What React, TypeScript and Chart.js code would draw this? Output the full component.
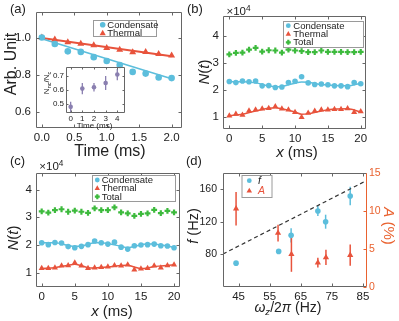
import React, { useEffect, useRef } from "react";
import { Chart, registerables } from "chart.js";

Chart.register(...registerables);

const W = 399;
const H = 321;
const FONT = '"Liberation Sans", Arial, Helvetica, sans-serif';
const CYAN = "#5cbedc";
const RED = "#e8533c";
const GREEN = "#3dba3d";
const PURPLE = "#8a7fb0";
const ORANGE = "#e9622f";
const FRAME = "#666666";
const TEXT = "#222222";

// ---------- (a) ----------
const aTime = [0, 0.2, 0.4, 0.6, 0.8, 1.0, 1.2, 1.4, 1.6, 1.8, 2.0];
const aCondensate = [1.0, 0.965, 0.926, 0.923, 0.895, 0.874, 0.853, 0.816, 0.807, 0.786, 0.783];
const aThermal = [1.0, 0.99, 0.975, 0.967, 0.958, 0.944, 0.935, 0.921, 0.923, 0.912, 0.904];
const aFitTime = [0, 2.0];
const aCondensateFit = [0.993, 0.78];
const aThermalFit = [0.997, 0.9];
const aXTicks = [0, 0.5, 1.0, 1.5, 2.0];
const aYTicks = [0.6, 0.8, 1.0];

// ---------- inset ----------
const insetTime = [0, 1, 2, 3, 4];
const insetRatio = [0.48, 0.61, 0.62, 0.65, 0.71];
const insetErr = [0.037, 0.04, 0.03, 0.05, 0.04];
const insetXTicks = [0, 1, 2, 3, 4];
const insetYTicks = [0.5, 0.6, 0.7];

// ---------- (b) ----------
const bX = [0, 1, 2, 3, 4, 5, 6, 7, 8, 9, 10, 11, 12, 13, 14, 15, 16, 17, 18, 19, 20];
const bTotal = [3.32, 3.37, 3.38, 3.49, 3.56, 3.42, 3.47, 3.46, 3.38, 3.49, 3.46, 3.44, 3.4, 3.4, 3.46, 3.41, 3.41, 3.41, 3.4, 3.4, 3.41];
const bCondensate = [2.31, 2.27, 2.33, 2.3, 2.33, 2.15, 2.16, 2.09, 2.11, 2.27, 2.32, 2.49, 2.26, 2.2, 2.22, 2.19, 2.15, 2.15, 2.12, 2.27, 2.23];
const bThermal = [1.04, 1.11, 1.07, 1.23, 1.26, 1.3, 1.32, 1.38, 1.3, 1.26, 1.17, 0.99, 1.14, 1.22, 1.26, 1.26, 1.28, 1.28, 1.31, 1.17, 1.2];
const bFitX = [0, 2, 4, 6, 7, 8, 10, 11, 12, 14, 16, 18, 20];
const bCondensateFit = [2.3, 2.3, 2.26, 2.15, 2.12, 2.13, 2.25, 2.29, 2.28, 2.2, 2.16, 2.15, 2.25];
const bThermalFit = [1.05, 1.1, 1.22, 1.32, 1.34, 1.3, 1.18, 1.1, 1.12, 1.22, 1.29, 1.3, 1.18];

// ---------- (c) ----------
const cX = [0, 1, 2, 3, 4, 5, 6, 7, 8, 9, 10, 11, 12, 13, 14, 15, 16, 17, 18, 19, 20];
const cTotal = [3.21, 3.17, 3.26, 3.29, 3.2, 3.24, 3.2, 3.16, 3.32, 3.26, 3.26, 3.36, 3.18, 3.14, 3.05, 3.12, 3.14, 3.27, 3.15, 3.23, 3.18];
const cCondensate = [2.08, 2.01, 2.09, 2.07, 1.94, 1.9, 1.95, 2.01, 2.14, 2.08, 2.03, 2.1, 1.92, 1.85, 1.97, 2.0, 2.01, 2.03, 1.97, 1.96, 1.9];
const cThermal = [1.16, 1.16, 1.18, 1.25, 1.26, 1.36, 1.25, 1.16, 1.18, 1.19, 1.21, 1.26, 1.25, 1.28, 1.1, 1.14, 1.16, 1.25, 1.18, 1.26, 1.28];
const cCondFitX = [0, 2, 4, 5, 6, 8, 9, 10, 12, 13, 14, 16, 17, 18, 20];
const cCondensateFit = [2.08, 2.08, 1.98, 1.95, 1.96, 2.08, 2.08, 2.05, 1.95, 1.9, 1.95, 2.03, 2.03, 2.0, 1.92];
const cThermFitX = [0, 2, 4, 5, 6, 7, 8, 10, 12, 13, 14, 15, 16, 17, 18, 20];
const cThermalFit = [1.15, 1.18, 1.27, 1.3, 1.25, 1.18, 1.17, 1.2, 1.26, 1.27, 1.2, 1.15, 1.17, 1.22, 1.24, 1.28];

const nXTicks = [0, 5, 10, 15, 20];
const nYTicks = [1, 2, 3, 4];

// ---------- (d) ----------
const dOmegaF = [44.2, 57.9, 61.9, 70.5, 73.0, 80.9];
const dF = [69.3, 83.7, 103.4, 133.3, 120.2, 151.8];
const dFErr = [1.5, 1.5, 8.6, 6.2, 8.6, 11.3];
const dOmegaA = [44.2, 57.7, 62.0, 70.5, 73.1, 80.9];
const dA = [10.3, 7.1, 4.3, 3.2, 3.9, 4.2];
const dAErr = [2.2, 1.1, 2.3, 0.65, 1.0, 1.4];
const dLineOmega = [40, 86.3];
const dLineF = [80.5, 171];
const dXTicks = [45, 55, 65, 75, 85];
const dFTicks = [80, 120, 160];
const dATicks = [0, 5, 10, 15];

const pts = (xs: number[], ys: number[]) => xs.map((x, i) => ({ x, y: ys[i] }));

function drawMarker(ctx: any, style: string, x: number, y: number, r: number, color: string) {
  ctx.save();
  ctx.fillStyle = color;
  ctx.strokeStyle = color;
  if (style === "circle") {
    ctx.beginPath();
    ctx.arc(x, y, r, 0, Math.PI * 2);
    ctx.fill();
  } else if (style === "triangle") {
    ctx.beginPath();
    ctx.moveTo(x, y - r);
    ctx.lineTo(x + r * 0.9, y + r * 0.6);
    ctx.lineTo(x - r * 0.9, y + r * 0.6);
    ctx.closePath();
    ctx.fill();
  } else {
    ctx.lineWidth = 2.2;
    ctx.beginPath();
    ctx.moveTo(x - r, y);
    ctx.lineTo(x + r, y);
    ctx.moveTo(x, y - r);
    ctx.lineTo(x, y + r);
    ctx.stroke();
  }
  ctx.restore();
}

function framePlugin(cfg: any) {
  return {
    id: "frame",
    afterDatasetsDraw(chart: any) {
      const { ctx, chartArea: a } = chart;
      const L = cfg.tickLen ?? 3;
      const left = Math.round(a.left) + 0.5;
      const right = Math.round(a.right) - 0.5;
      const top = Math.round(a.top) + 0.5;
      const bottom = Math.round(a.bottom) - 0.5;
      ctx.save();
      ctx.lineWidth = 1;
      Object.keys(chart.scales).forEach((id) => {
        const s = chart.scales[id];
        ctx.strokeStyle = (cfg.colors && cfg.colors[id]) || FRAME;
        const sides = (cfg.sides && cfg.sides[id]) || ["a", "b"];
        const out = cfg.outward && cfg.outward[id];
        s.ticks.forEach((t: any) => {
          const p = Math.round(s.getPixelForValue(t.value)) + 0.5;
          ctx.beginPath();
          if (s.isHorizontal()) {
            ctx.moveTo(p, bottom);
            ctx.lineTo(p, bottom - L);
            ctx.moveTo(p, top);
            ctx.lineTo(p, top + L);
          } else {
            if (sides.includes("a")) {
              ctx.moveTo(left, p);
              ctx.lineTo(out ? left - L : left + L, p);
            }
            if (sides.includes("b")) {
              ctx.moveTo(right, p);
              ctx.lineTo(right - L, p);
            }
          }
          ctx.stroke();
        });
      });
      ctx.strokeStyle = FRAME;
      ctx.beginPath();
      ctx.moveTo(right, top);
      ctx.lineTo(left, top);
      ctx.lineTo(left, bottom);
      ctx.lineTo(right, bottom);
      ctx.stroke();
      ctx.strokeStyle = cfg.rightColor || FRAME;
      ctx.beginPath();
      ctx.moveTo(right, top);
      ctx.lineTo(right, bottom);
      ctx.stroke();
      ctx.restore();
    },
  };
}

function errorBarPlugin() {
  return {
    id: "errbars",
    beforeDatasetsDraw(chart: any) {
      const ctx = chart.ctx;
      chart.data.datasets.forEach((ds: any, i: number) => {
        if (!ds.errorBars) return;
        const meta = chart.getDatasetMeta(i);
        const xs = meta.xScale;
        const ys = meta.yScale;
        ctx.save();
        ctx.strokeStyle = ds.errorColor || ds.backgroundColor;
        ctx.lineWidth = ds.errorWidth || 1.5;
        ds.data.forEach((p: any, j: number) => {
          const e = ds.errorBars[j];
          const px = xs.getPixelForValue(p.x);
          ctx.beginPath();
          ctx.moveTo(px, ys.getPixelForValue(p.y - e));
          ctx.lineTo(px, ys.getPixelForValue(p.y + e));
          ctx.stroke();
        });
        ctx.restore();
      });
    },
  };
}

function legendPlugin(cfg: any) {
  return {
    id: "boxLegend",
    afterDraw(chart: any) {
      const ctx = chart.ctx;
      ctx.save();
      ctx.fillStyle = "#ffffff";
      ctx.fillRect(cfg.x, cfg.y, cfg.w, cfg.h);
      ctx.strokeStyle = "#9a9a9a";
      ctx.lineWidth = 1;
      ctx.strokeRect(cfg.x + 0.5, cfg.y + 0.5, cfg.w, cfg.h);
      cfg.rows.forEach((row: any, i: number) => {
        const ds = chart.data.datasets[row.ds];
        const y = cfg.rowY[i];
        drawMarker(ctx, ds.pointStyle, cfg.markerX, y, ds.pointRadius * (cfg.markerScale || 0.85), ds.backgroundColor);
        ctx.font = `${row.italic ? "italic " : ""}${cfg.size}px ${FONT}`;
        ctx.fillStyle = row.color || TEXT;
        ctx.textBaseline = "middle";
        ctx.textAlign = "left";
        ctx.fillText(ds.label, cfg.textX, y + 0.5);
      });
      ctx.restore();
    },
  };
}

function scale(o: any) {
  const horizontal = o.axis === "x";
  return {
    type: "linear",
    axis: o.axis,
    position: o.position || (horizontal ? "bottom" : "left"),
    min: o.min,
    max: o.max,
    grid: { display: false, drawTicks: false },
    border: { display: false },
    title: { display: false },
    ticks: {
      font: { family: FONT, size: o.size || 11.5 },
      color: o.color || TEXT,
      padding: o.padding ?? 4,
      maxRotation: 0,
      minRotation: 0,
      autoSkip: false,
      callback: (v: number) => (o.decimals ? Number(v).toFixed(o.decimals) : String(v)),
    },
    afterBuildTicks: (s: any) => {
      s.ticks = o.ticks.map((v: number) => ({ value: v }));
    },
    afterFit: (s: any) => {
      if (horizontal) s.height = o.size2;
      else s.width = o.size2;
    },
  };
}

function config(o: any) {
  return {
    type: "scatter",
    data: { datasets: o.datasets },
    options: {
      responsive: false,
      animation: false,
      devicePixelRatio: 1,
      events: [],
      layout: {
        padding: {
          left: o.plot.l - o.yw,
          top: o.plot.t,
          right: W - o.plot.r - (o.yrw || 0),
          bottom: H - o.plot.b - o.xh,
        },
      },
      plugins: { legend: { display: false }, tooltip: { enabled: false }, title: { display: false } },
      scales: o.scales,
    },
    plugins: o.plugins,
  };
}

const marker = (label: string, data: any[], style: string, r: number, color: string, extra: any = {}) => ({
  label,
  data,
  pointStyle: style,
  pointRadius: r,
  backgroundColor: color,
  borderColor: color,
  borderWidth: style === "cross" ? 2.2 : 0,
  showLine: false,
  order: 0,
  ...extra,
});
const fitLine = (label: string, data: any[], color: string, width: number, extra: any = {}) => ({
  label,
  data,
  showLine: true,
  pointRadius: 0,
  borderColor: color,
  backgroundColor: color,
  borderWidth: width,
  order: 1,
  ...extra,
});

const makeA = () =>
  config({
    plot: { l: 36, t: 10, r: 182, b: 128 },
    yw: 30,
    xh: 22,
    datasets: [
      marker("Condensate", pts(aTime, aCondensate), "circle", 3.3, CYAN),
      marker("Thermal", pts(aTime, aThermal), "triangle", 4, RED),
      fitLine("Condensate fit", pts(aFitTime, aCondensateFit), CYAN, 1.6),
      fitLine("Thermal fit", pts(aFitTime, aThermalFit), RED, 2),
    ],
    scales: {
      x: scale({ axis: "x", min: -0.09, max: 2.16, ticks: aXTicks, decimals: 1, size2: 22, padding: 3 }),
      y: scale({ axis: "y", min: 0.516, max: 1.137, ticks: aYTicks, decimals: 1, size2: 30, padding: 5 }),
    },
    plugins: [
      framePlugin({}),
      legendPlugin({ x: 93, y: 20, w: 63, h: 16, rowY: [24.7, 33.2], markerX: 102.7, textX: 107.3, size: 9.5, rows: [{ ds: 0 }, { ds: 1 }] }),
    ],
  });

const makeInset = () =>
  config({
    plot: { l: 66, t: 67, r: 125, b: 113 },
    yw: 22,
    xh: 10,
    datasets: [marker("Nnc/Nc", pts(insetTime, insetRatio), "circle", 2.3, PURPLE, { errorBars: insetErr, errorWidth: 1.3 })],
    scales: {
      x: scale({ axis: "x", min: -0.4, max: 4.66, ticks: insetXTicks, size: 8, size2: 10, padding: 1 }),
      y: scale({ axis: "y", min: 0.436, max: 0.764, ticks: insetYTicks, decimals: 1, size: 8, size2: 22, padding: 2 }),
    },
    plugins: [errorBarPlugin(), framePlugin({ tickLen: 2 })],
  });

const makeB = () =>
  config({
    plot: { l: 223, t: 16, r: 366, b: 129 },
    yw: 20,
    xh: 22,
    datasets: [
      marker("Condensate", pts(bX, bCondensate), "circle", 2.8, CYAN),
      marker("Thermal", pts(bX, bThermal), "triangle", 3.5, RED),
      marker("Total", pts(bX, bTotal), "cross", 2.9, GREEN),
      fitLine("Condensate fit", pts(bFitX, bCondensateFit), CYAN, 1.5, { tension: 0.4, cubicInterpolationMode: "monotone" }),
      fitLine("Thermal fit", pts(bFitX, bThermalFit), RED, 1.5, { tension: 0.4, cubicInterpolationMode: "monotone" }),
    ],
    scales: {
      x: scale({ axis: "x", min: -0.96, max: 20.8, ticks: nXTicks, size2: 22, padding: 3 }),
      y: scale({ axis: "y", min: 0.55, max: 4.74, ticks: nYTicks, size2: 20, padding: 4 }),
    },
    plugins: [
      framePlugin({}),
      legendPlugin({ x: 283, y: 21, w: 80, h: 26, rowY: [25.7, 34, 42.3], markerX: 288.3, textX: 293.3, size: 9.5, rows: [{ ds: 0 }, { ds: 1 }, { ds: 2 }] }),
    ],
  });

const makeC = () =>
  config({
    plot: { l: 36, t: 173, r: 180, b: 287 },
    yw: 20,
    xh: 22,
    datasets: [
      marker("Condensate", pts(cX, cCondensate), "circle", 2.8, CYAN),
      marker("Thermal", pts(cX, cThermal), "triangle", 3.5, RED),
      marker("Total", pts(cX, cTotal), "cross", 2.9, GREEN),
      fitLine("Condensate fit", pts(cCondFitX, cCondensateFit), CYAN, 1.5, { tension: 0.4, cubicInterpolationMode: "monotone" }),
      fitLine("Thermal fit", pts(cThermFitX, cThermalFit), RED, 1.5, { tension: 0.4, cubicInterpolationMode: "monotone" }),
    ],
    scales: {
      x: scale({ axis: "x", min: -0.86, max: 20.9, ticks: nXTicks, size2: 22, padding: 3 }),
      y: scale({ axis: "y", min: 0.48, max: 4.6, ticks: nYTicks, size2: 20, padding: 4 }),
    },
    plugins: [
      framePlugin({}),
      legendPlugin({ x: 92, y: 175, w: 83, h: 26, rowY: [180, 188.3, 196.7], markerX: 97.3, textX: 101.7, size: 9.5, rows: [{ ds: 0 }, { ds: 1 }, { ds: 2 }] }),
    ],
  });

const makeD = () =>
  config({
    plot: { l: 223, t: 173, r: 367, b: 287 },
    yw: 26,
    yrw: 22,
    xh: 20,
    datasets: [
      marker("f", pts(dOmegaF, dF), "circle", 2.8, CYAN, { yAxisID: "yF", errorBars: dFErr }),
      marker("A", pts(dOmegaA, dA), "triangle", 3.6, RED, { yAxisID: "yA", errorBars: dAErr }),
      fitLine("f = 2ωz", pts(dLineOmega, dLineF), "#333333", 1.2, { yAxisID: "yF", borderDash: [4, 3] }),
    ],
    scales: {
      x: scale({ axis: "x", min: 40, max: 86.3, ticks: dXTicks, size2: 20, padding: 3 }),
      yF: scale({ axis: "y", position: "left", min: 40, max: 180, ticks: dFTicks, size: 10.5, size2: 26, padding: 6 }),
      yA: scale({ axis: "y", position: "right", min: 0, max: 15, ticks: dATicks, size: 10.5, size2: 22, padding: 2, color: ORANGE }),
    },
    plugins: [
      errorBarPlugin(),
      framePlugin({ colors: { yA: ORANGE }, sides: { yF: ["a"], yA: ["b"] }, outward: { yF: true }, rightColor: ORANGE }),
      legendPlugin({
        x: 241.5,
        y: 175,
        w: 30,
        h: 22,
        rowY: [180.7, 190.7],
        markerX: 249.3,
        textX: 258,
        size: 10.5,
        rows: [{ ds: 0, italic: true }, { ds: 1, italic: true, color: RED }],
      }),
    ],
  });

function ChartCanvas({ make }: { make: () => any }) {
  const ref = useRef<HTMLCanvasElement | null>(null);
  useEffect(() => {
    const chart = new Chart(ref.current as HTMLCanvasElement, make());
    return () => chart.destroy();
  }, []);
  return <canvas ref={ref} width={W} height={H} style={{ position: "absolute", left: 0, top: 0, width: W, height: H }} />;
}

function Txt({ x, y, size, rot = 0, color = TEXT, left = false, children }: any) {
  return (
    <div
      style={{
        position: "absolute",
        left: x,
        top: y,
        fontFamily: FONT,
        fontSize: size,
        lineHeight: 1,
        color,
        whiteSpace: "nowrap",
        transform: `translate(${left ? "0" : "-50%"}, -50%) rotate(${rot}deg)`,
        transformOrigin: left ? "left center" : "center",
      }}
    >
      {children}
    </div>
  );
}

const sub = { fontSize: "0.68em", verticalAlign: "-0.28em", lineHeight: 0 } as any;
const sup = { fontSize: "0.72em", verticalAlign: "0.55em", lineHeight: 0 } as any;

export default function App() {
  return (
    <div style={{ position: "absolute", left: 0, top: 0, width: W, height: H, background: "#ffffff", overflow: "hidden" }}>
      <ChartCanvas make={makeA} />
      <ChartCanvas make={makeInset} />
      <ChartCanvas make={makeB} />
      <ChartCanvas make={makeC} />
      <ChartCanvas make={makeD} />

      <Txt x={10} y={8} size={13} left>(a)</Txt>
      <Txt x={187} y={8} size={13} left>(b)</Txt>
      <Txt x={10} y={160} size={13} left>(c)</Txt>
      <Txt x={186} y={160} size={13} left>(d)</Txt>

      <Txt x={11} y={64} size={16} rot={-90}>Arb. Unit</Txt>
      <Txt x={110} y={151} size={16}>Time (ms)</Txt>

      <Txt x={47} y={83} size={8} rot={-90}>
        N<span style={sub}>nc</span>/N<span style={sub}>c</span>
      </Txt>
      <Txt x={94.5} y={126} size={8}>Time (ms)</Txt>

      <Txt x={226.5} y={11.5} size={11.5} left>
        ×10<span style={sup}>4</span>
      </Txt>
      <Txt x={203} y={72} size={15} rot={-90}>
        <i>N</i>(<i>t</i>)
      </Txt>
      <Txt x={297} y={151} size={15}>
        <i>x</i> (ms)
      </Txt>

      <Txt x={39.3} y={167} size={11.5} left>
        ×10<span style={sup}>4</span>
      </Txt>
      <Txt x={12} y={238} size={15} rot={-90}>
        <i>N</i>(<i>t</i>)
      </Txt>
      <Txt x={112} y={310} size={15}>
        <i>x</i> (ms)
      </Txt>

      <Txt x={193} y={226} size={14.5} rot={-90}>
        <i>f</i> (Hz)
      </Txt>
      <Txt x={389} y={226} size={15} rot={90} color={ORANGE}>
        <i>A</i> (%)
      </Txt>
      <Txt x={288} y={307} size={14}>
        <i>ω</i>
        <span style={sub}>
          <i>z</i>
        </span>
        /2<i>π</i> (Hz)
      </Txt>
    </div>
  );
}
